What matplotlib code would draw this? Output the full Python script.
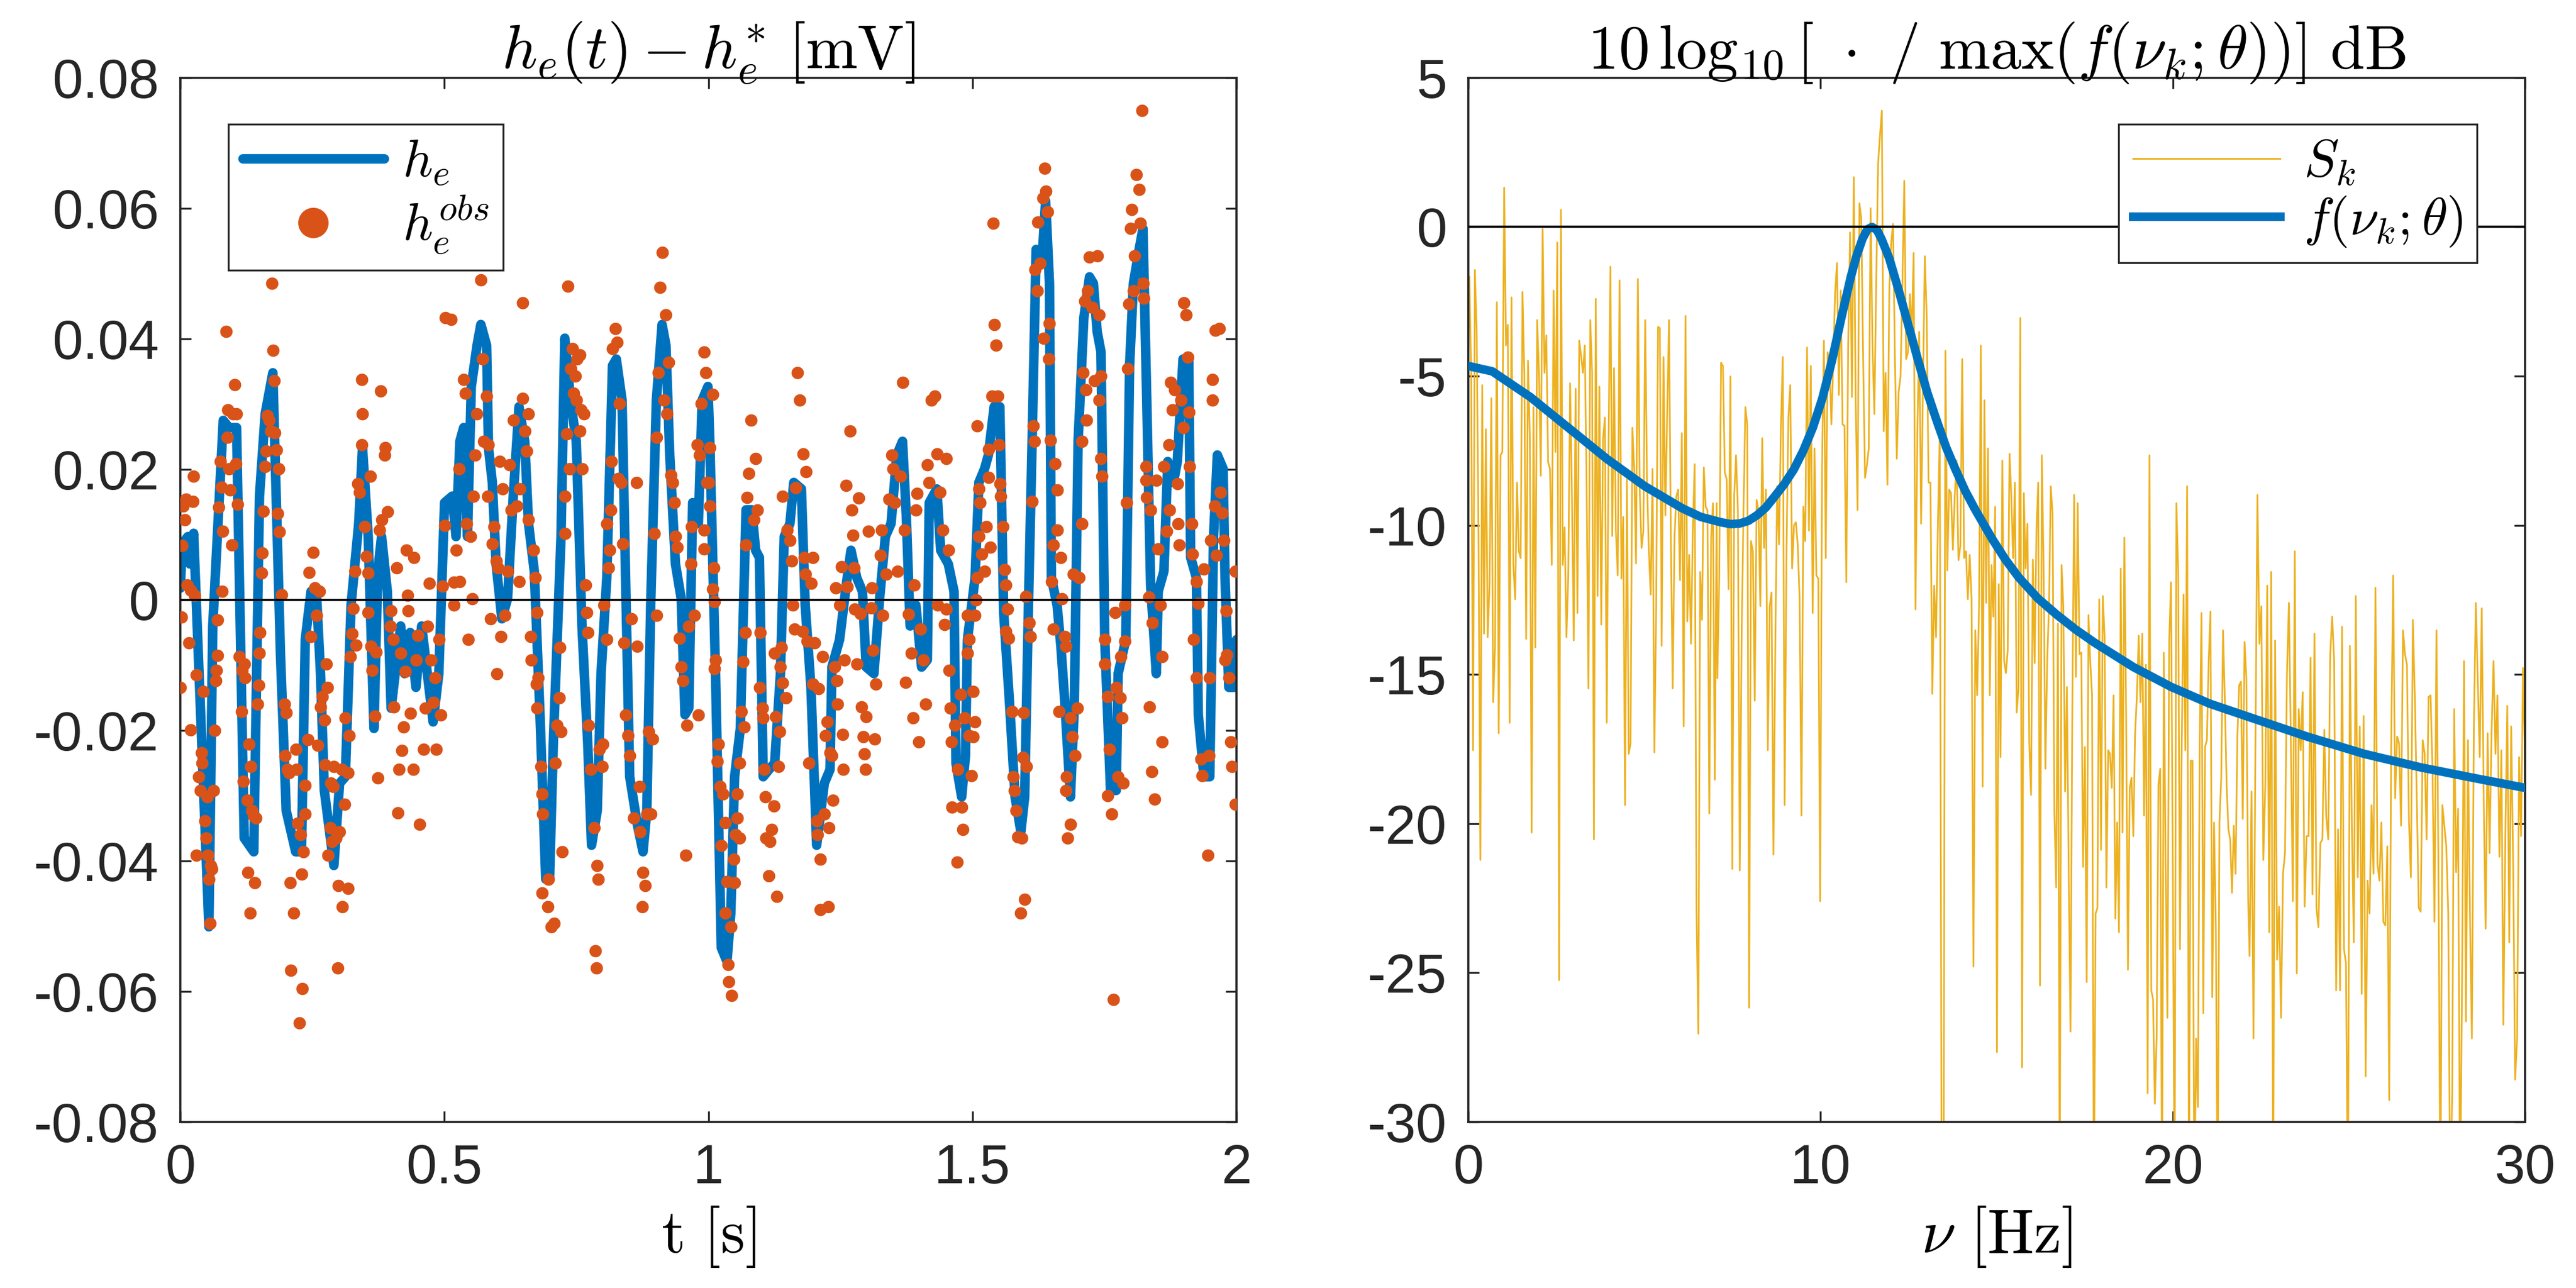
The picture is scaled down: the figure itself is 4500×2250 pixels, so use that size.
import numpy as np
import matplotlib
matplotlib.use('Agg')
import matplotlib.pyplot as plt

# ---------------- data (left panel) ----------------
# model trajectory h_e(t) - h_e^*  : (time [ms], value [1e-3 mV])
he_curve = [
    (0, 1.8), (3.6, 8.6), (14.4, 9.7), (18.0, 5.5), (25.2, 10.2), (54.1, -50.1), (61.4, -4.0),
    (81.3, 27.5), (92.1, 26.4), (106.5, 26.4), (121.0, -36.5), (139.1, -38.6), (149.9, 15.9),
    (160.7, 28.5), (175.2, 34.8), (189.6, -8.2), (200.5, -32.3), (218.5, -38.6), (229.4, -38.6),
    (236.6, -6.1), (247.5, 1.3), (258.3, 0.2), (265.5, -11.3), (272.7, -29.2), (290.8, -40.7),
    (301.6, -28.1), (312.5, -27.1), (323.3, -0.8), (337.8, 11.7), (345.0, 23.3), (355.8, 9.7),
    (366.7, -19.7), (373.9, 4.4), (381.1, 9.7), (392.0, 1.3), (399.2, -16.6), (417.3, -4.0),
    (424.5, -11.3), (435.3, -5.0), (446.2, -13.4), (457.0, -4.0), (478.7, -18.7), (489.5, -11.3),
    (500.4, 14.9), (514.9, 15.9), (522.1, 9.7), (529.4, 24.3), (536.6, 26.4), (543.8, 9.7),
    (551.0, 32.7), (561.9, 39.0), (569.1, 42.2), (580.0, 39.0), (583.6, 23.3), (590.8, 18.0),
    (598.0, 5.5), (608.9, -2.9), (619.7, 0.2), (630.5, 15.9), (641.4, 29.6), (652.2, 24.3),
    (659.4, 11.7), (670.3, 4.4), (681.1, -17.6), (692.0, -42.8), (699.2, -42.8), (706.4, -21.8),
    (720.9, 9.7), (728.1, 40.1), (738.9, 30.6), (749.8, 24.3), (760.6, -4.0), (771.4, -21.8),
    (778.7, -37.6), (789.5, -32.3), (796.7, -11.3), (807.6, 3.4), (818.4, 35.9), (825.6, 36.9),
    (836.5, 30.6), (843.7, 1.3), (851.0, -27.1), (865.4, -34.4), (876.2, -38.6), (883.4, -32.3),
    (890.7, -0.8), (901.5, 30.6), (912.3, 42.2), (919.6, 39.0), (926.8, 22.2), (937.6, 5.5),
    (948.5, 0.2), (955.7, -17.6), (962.9, -16.6), (970.2, 14.9), (981.0, 11.7), (988.2, 30.6),
    (999.1, 32.7), (1002.7, 24.3), (1013.5, -11.3), (1024.4, -53.3), (1035.2, -55.4),
    (1042.4, -48.0), (1049.6, -27.1), (1060.5, -19.7), (1071.3, 13.8), (1082.2, 13.8),
    (1089.4, 7.6), (1096.6, 6.5), (1103.8, -27.1), (1114.7, -26.0), (1125.5, -25.0),
    (1136.4, -11.3), (1143.6, 9.7), (1154.4, 11.7), (1161.7, 18.0), (1176.1, 17.0),
    (1183.3, -0.8), (1194.2, -13.4), (1205.0, -37.6), (1219.5, -28.1), (1230.3, -26.0),
    (1233.9, -10.3), (1248.4, -6.1), (1262.8, 3.4), (1270.0, 7.6), (1280.9, 3.4), (1291.7, 1.3),
    (1298.9, -10.3), (1313.4, -11.3), (1324.2, 0.2), (1335.1, 9.7), (1345.9, 11.7),
    (1356.8, 22.2), (1367.6, 24.3), (1374.8, 12.8), (1382.0, -4.0), (1392.9, -0.8),
    (1403.7, -10.3), (1414.6, -9.2), (1418.2, 14.9), (1432.6, 17.0), (1439.9, 7.6),
    (1454.3, 5.5), (1465.1, 1.3), (1468.8, -25.0), (1479.6, -30.2), (1486.8, -23.9),
    (1490.5, -6.1), (1505.0, 3.4), (1512.2, 18.0), (1523.0, 20.1), (1530.2, 22.2),
    (1541.1, 29.6), (1551.9, 29.6), (1559.1, -1.9), (1570.0, -15.5), (1580.8, -30.2),
    (1591.7, -35.5), (1598.9, -30.2), (1606.1, -0.8), (1613.3, 25.4), (1620.6, 53.7),
    (1631.4, 51.6), (1638.6, 61.1), (1645.9, 48.5), (1649.5, 3.4), (1660.3, -0.8),
    (1667.5, -7.1), (1674.8, -15.5), (1685.6, -30.2), (1692.8, -16.6), (1700.1, 24.3),
    (1710.9, 43.2), (1721.7, 49.5), (1729.0, 48.5), (1736.2, 41.1), (1743.4, 38.0),
    (1750.6, -6.1), (1761.5, -29.2), (1772.3, -29.2), (1775.9, -11.3), (1790.4, -6.1),
    (1797.6, 35.9), (1804.8, 48.5), (1815.7, 53.7), (1822.9, 56.9), (1830.1, 30.6),
    (1837.4, 2.3), (1848.2, -11.3), (1851.8, 1.3), (1862.6, 4.4), (1869.9, 21.2),
    (1880.7, 18.0), (1887.9, 21.2), (1898.8, 36.9), (1909.6, 36.9), (1913.2, 6.5),
    (1924.1, 3.4), (1927.7, -17.6), (1938.5, -27.1), (1949.4, -27.1), (1956.6, 9.7),
    (1963.8, 22.2), (1974.7, 20.1), (1978.3, 3.4), (1985.5, -13.4), (1996.3, -13.4),
    (2000.0, -6.1),
]

# observations h_e^obs : (time [ms], value [1e-3 mV])
obs_points = [
    (0, -13.4), (1.8, -2.6), (3.6, 8.3), (5.4, 14.4), (9, 12.3), (10.8, 15.4), (12.6, 2.3), (16.2, -6.6),
    (19.8, 1.5), (23.4, 15.1), (25.2, 18.9), (27, 0.7), (30.7, -11.5), (19.8, -19.9), (30.7, -39.1),
    (34.3, -27.1), (37.9, -29.2), (39.7, -23.4), (41.5, -25), (43.3, -14), (46.9, -33.9), (48.7, -36.5),
    (50.5, -30.2), (52.3, -39.1), (54.1, -42.8), (56, -49.6), (57.8, -40.7), (59.6, -41.2), (63.2, -29.2),
    (65, -20), (66.8, -12.4), (68.6, -10.8), (70.4, -8.5), (70.4, -3.1), (72.2, 14.2), (75.8, 21.2),
    (78.4, 17.3), (79.5, 1.3), (80.5, 10.5), (86.7, 41.1), (88.5, 24.9), (90.3, 29.1), (92.1, 20.1),
    (93.9, 16.8), (97.5, 8.4), (99.3, 28.5), (102.9, 33), (104.7, 20.9), (108.3, 14.6), (106.5, 28.5),
    (112, -8.7), (115.6, -17.1), (117.4, -10.8), (119.2, -27.8), (121, -9.8), (122.8, -11.9),
    (126.4, -30.7), (128.2, -41.8), (130, -22.1), (131.8, -48), (133.6, -25.5), (135.4, -32.3),
    (139, -33.1), (140.9, -43.3), (142.7, -33.4), (146.3, -16), (148.1, -13.1), (149.9, -8.2),
    (150.6, -5), (153.5, 4.1), (155.3, 7.2), (157.1, 13.6), (160.7, 20.4), (162.5, 22.8), (164.3, 28.2),
    (168, 27.5), (171.6, 25.9), (173.4, 48.5), (175.2, 38.2), (178.1, 33.6), (178.8, 25.6), (182.4, 23),
    (186, 20.1), (184.2, 13.2), (187.8, 10.4), (191.5, 0.8), (196.9, -16), (200.5, -17.3), (198.7, -23.9),
    (202.3, -26), (206, -26.5), (207.7, -43.3), (209.5, -56.8), (215, -48), (218.5, -22.9), (220.3, -26),
    (222, -34.2), (225.8, -64.8), (227.6, -36), (231.2, -59.6), (229.4, -42), (233, -38.6), (236.6, -32.8),
    (236.6, -28.4), (242, -21.4), (243.8, 4.2), (247.5, -5.6), (251, 7.3), (254.7, 1.8), (258.3, -2.4),
    (260.1, -22.3), (263.7, 1.3), (265.5, -16.4), (269.1, -14.8), (272.7, -18.4), (274.5, -25.3),
    (276.4, -9.8), (278.2, -13.4), (280, -39.1), (283.6, -34.9), (285.4, -28.1), (287.2, -37), (289, -28.6),
    (290.8, -25.5), (294.4, -36.5), (298, -56.4), (298.8, -43.8), (301.6, -35.5), (305.3, -26), (307.1, -47),
    (310.7, -31.3), (312.5, -18.1), (317.9, -44.2), (317.9, -26.5), (319.7, -20.8), (321.5, -8.7),
    (325.1, -5.2), (326.9, -1.3), (330.5, 4.4), (332.4, -6.9), (336, 17.8), (339.6, 16.5), (343.2, 23.8),
    (344, 33.8), (345, 28.5), (348.6, 11.2), (352.2, 6.7), (355.8, 4.1), (355.8, -1.9), (359.5, 18.9),
    (361.3, -7.1), (363.1, -10.8), (368.5, -17.8), (370.3, -8), (373.9, -27.3), (377.5, 10.7), (379.3, 32),
    (381.1, 12.3), (386.6, 22.2), (388.4, 23.3), (392, 13.5), (399.2, -1.7), (397.4, -4), (402.8, -6.1),
    (404.6, -16.4), (410, 4.9), (411.8, -32.6), (413.6, -26), (417.3, -8.2), (419.1, -23.1), (422.7, -19.5),
    (426.3, -11), (428.1, 7.6), (429.9, 0.7), (431.7, -1.7), (435.3, -17.4), (440.8, -26), (442.6, 6.5),
    (446.2, -9.2), (449.8, -5.4), (453.4, -34.4), (460.6, -22.9), (464.2, -16.6), (467.8, -4), (471.5, 2.5),
    (475.1, -9.2), (478.7, -15.7), (482.3, -11.9), (484.1, -22.9), (489.5, -6.1), (493.1, -17.6),
    (496.7, 2.1), (500.4, 11.4), (502.2, 43.2),
    (513.1, 43), (518.5, -0.8), (522.1, 7.6), (518.5, 2.7), (529.4, 2.8), (527.6, 20.1), (536.6, 33.8),
    (540.2, 31.7), (542, 11.7), (545.6, -6.1), (549.2, 9.7), (552.9, 0.2), (554.7, 15.9), (558.3, 22.2),
    (561.9, 28.5), (569.1, 49), (572.7, 36.9), (574.5, 24.3), (580, 31.2), (581.8, 15.9), (583.6, 23.8),
    (587.2, -2.9), (590.8, 8.6), (594.4, 11.2), (598, 6), (599.8, -11.3), (601.6, 4.9), (605.2, 21.2),
    (607.1, -5.6), (610.7, 17), (614.3, -2.4), (619.7, 4.4), (623.3, 20.7), (626.9, 13.8), (630.5, 27.5),
    (637.8, 14.4), (641.4, 2.8), (643.2, 17), (648.6, 45.5), (648.6, 30.9), (652.2, 25.9), (655.8, 22.8),
    (659.5, 28.5), (659.5, 12.3), (663.1, -5.6), (664.9, -9.2), (668.5, 7.6), (672.1, 3.4), (675.7, -1.9),
    (673.9, -12.9), (677.3, -11.9), (675.5, -16.6), (683, -25.5), (684.8, -29.7), (686.6, -32.8),
    (684.8, -44.9), (695.6, -47), (697.4, -42.8), (702.8, -50.1), (708.2, -49.6), (710, -25), (713.6, -19.2),
    (717.2, -15), (719, -7.3), (722.7, -38.6), (720.9, -20.2), (728.1, 15.9), (728.1, 10.2), (731.7, 25.4),
    (734.2, 48.1), (737.1, 20.1), (738.9, 35.4), (742.5, 38.5), (744.3, 31.7), (748, 34.3), (749.8, 30.6),
    (751.6, 36.9), (757, 37.5), (758.8, 29.1), (757, 25.9), (760.6, 20.1), (764.2, 28.5), (767.8, 2.3),
    (769.7, -1.9), (771.5, -5), (773.3, -19.2), (777, -26), (784.1, -34.9), (786, -53.8), (787.8, -56.4),
    (789.6, -40.7), (791.4, -42.8), (793.1, -22.9), (798.6, -25.5), (800.3, -22.1), (802.2, -0.8),
    (807.6, -6.1), (807.6, 11.7), (811.2, 4.9), (813, 7.6), (814.8, 13.8), (816.6, 21.2), (818.4, 38.5),
    (823.8, 41.6), (827.4, 39.5), (831.1, 30.1), (829.3, 18.6), (834.7, 18), (838.3, 8.6), (840.1, -6.6),
    (843.7, -17.6), (847.3, -20.8), (851, -23.9), (854.5, -2.9), (858.2, -33.4), (863.6, 18), (865.4, -7.1),
    (869, -28.6), (870.8, -35.5), (874.4, -47), (876.2, -41.8), (879.8, -43.8), (883.4, -32.8),
    (887.1, -20.2), (890.7, -32.8), (894.3, -21.3), (898, 10.2), (901.5, 24.9), (901.5, -2.4), (905.1, 34.8),
    (908.8, 47.9), (912.4, 53.2), (919.6, 43.7), (916, 30.6), (921.4, 28.5), (925, 36.4), (928.6, 19.1),
    (932.2, 18), (935.8, 14.9), (937.6, 9.7), (941.2, 8.1), (944.9, -5.9), (948.5, -10.3), (952.1, -12.4),
    (957.5, -39.1), (959.3, -19.2), (962.9, -4), (966.6, 5.5), (968.3, 11.2), (973.8, -2.4), (979.2, 23.8),
    (982.8, 22.2), (981, -17.6), (986.4, 30.1), (991.8, 38), (995.5, 34.8), (997.3, 18),
    (1008, 31.5), (1002.7, 23.3), (1000.9, 18), (1002.7, 14.4), (991.8, 10.7), (991.8, 7.8), (1009.9, 4.9),
    (1008, 1.7), (1011.7, -0.3), (1013.5, -9.2), (1011.7, -10.5), (1018.9, -22.1), (1017.1, -24.7),
    (1022.5, -28.6), (1028, -29.7), (1031.6, -34.1), (1024.4, -37.6), (1031.6, -48), (1035.2, -43.2),
    (1037, -55.9), (1044.2, -60.6), (1038.8, -58.5), (1042.4, -50.1), (1049.6, -43.3), (1047.8, -39.7),
    (1051.5, -36), (1055.1, -33.4), (1058.7, -36.5), (1055.1, -29.7), (1058.7, -25), (1062.3, -17.1),
    (1067.7, -19.5), (1065.9, -9.5), (1069.5, -5), (1071.3, 8.4), (1073.1, 15.7), (1076.7, 19.4),
    (1080.4, 27.5), (1085.8, 12.3), (1089.4, 21.7), (1093, 13.8), (1096.6, -13.4), (1098.4, -5),
    (1102, -16.6), (1103.8, -18.1), (1105.6, -26), (1107.5, -30.2), (1109.3, -36.5), (1114.7, -42.3),
    (1116.5, -37), (1120.1, -35.2), (1123.7, -31.6), (1129.1, -45.4), (1127.3, -17.9), (1125.5, -8.2),
    (1132.7, -25.5), (1134.6, -20.2), (1136.4, -10.3), (1138.2, -7.3), (1140, -12.7), (1140, 15.9),
    (1147.2, -15), (1149, 10.7), (1154.4, 9.1), (1158, 6), (1159.8, -0.8), (1163.5, -4.5), (1165.3, 17.2),
    (1168.9, 34.8), (1172.5, 30.6), (1179.7, 22.4), (1185.1, 19.6), (1181.5, 6.5), (1183.3, 3.9),
    (1177.9, -4.8), (1187, -6.3), (1190.5, -25), (1194.2, 2.5), (1197.8, 6.5), (1197.8, -12.9),
    (1201.4, -6.6), (1205, -33.9), (1206.8, -36), (1208.6, -13.6), (1212.2, -39.7), (1212.2, -47.5),
    (1215.8, -8.7), (1219.5, -32.8), (1221.3, -20.8), (1224.9, -18.7), (1226.7, -47), (1228.5, -34.9),
    (1230.3, -23.4), (1233.9, -23.9), (1235.6, -30.7), (1239.3, -10.3), (1242.9, -12.4), (1244.7, -16),
    (1241.1, 1.8), (1248.4, -0.8), (1252, 5.1), (1253.8, -20.6), (1255.6, -26), (1257.4, -9.2),
    (1261, 17.5), (1262.8, 2), (1268.2, 25.9), (1271.9, 13.8), (1273.6, 9.9), (1275.5, 4.9), (1277.3, -1.4),
    (1280.9, -9.8), (1284.5, 15.6), (1288.1, -2.1), (1289.9, -16.4), (1293.5, -21), (1295.3, -23.6),
    (1297.2, -26), (1298.9, -17.9), (1302.6, 10.5), (1308, -1.2), (1309.8, 1.8), (1311.6, -7.7),
    (1315.2, -21.3), (1317, -12.9), (1326, 6.8), (1327.9, 10.7), (1329.7, -2.4), (1336.9, 3.9),
    (1342.3, 15.4), (1347.7, 22.2), (1349.5, 20.1), (1353.1, 14.9), (1358.6, 4.4), (1364, 18.9),
    (1367.6, 33.3), (1371.2, 10.7), (1373, -12.6), (1378.4, -2.2), (1383.9, -8.2), (1387.5, -18.1),
    (1389.3, 2.3), (1392.9, 13.8), (1394.7, 16.3), (1398.3, -21.8), (1401.9, -4.5), (1407.3, -9.2),
    (1410.9, -16), (1414.6, 20.7), (1418.2, 18), (1421.8, 30.6), (1429, 31.2), (1432.6, 22.4),
    (1434.4, -0.8), (1438, 16.5), (1443.5, 10.7), (1447.1, -3.8), (1450.7, 21.7), (1450.7, -1.4),
    (1454.3, 7.6), (1456.1, -10.8), (1457.9, -16.6), (1459.7, -21.8), (1461.5, -31.8), (1467, -19.2),
    (1470.6, -40.2), (1472.4, -26), (1477.8, -14.5), (1479.6, -31.8), (1481.4, -35.2), (1485, -18.1),
    (1490.4, -8.2), (1494.1, -20.8), (1497.7, -26.9),
    (1490.5, -2.4), (1494.1, -6.1), (1501.3, -14), (1505, -18.7), (1501.3, -21), (1505, -2.4), (1506.8, 0),
    (1508.6, 3.4), (1512.2, 9.7), (1514, 14.9), (1512.2, 17), (1508.6, 26.7), (1517.6, 7), (1523, 4.4),
    (1526.6, 11.2), (1530.2, 18.8), (1530.2, 23.1), (1533.9, 8.1), (1537.5, 31.2), (1539.3, 57.7),
    (1541.1, 42.2), (1544.7, 39), (1548.3, 31.2), (1550.1, 23.8), (1551.9, 17.8), (1553.7, 15.9),
    (1557.3, 11.2), (1561, 4.6), (1562.8, 2.3), (1566.4, -1.4), (1562.8, -4.8), (1568.2, -5.9),
    (1575.4, -17.1), (1577.2, -27.1), (1579, -29.2), (1582.6, -32.3), (1586.2, -36.3), (1593.5, -36.5),
    (1591.7, -48), (1598.9, -45.9), (1595.3, -24.1), (1597.1, -17.3), (1602.5, -25.5), (1600.7, 0.5),
    (1607.9, -3.5), (1609.7, -5.6), (1613.3, 15.1), (1617, 24.3), (1615.2, 26.7), (1618.8, 50.6),
    (1622.4, 47.4), (1624.2, 57.9), (1627.8, 51.6), (1633.2, 61.6), (1636.8, 66.1), (1638.6, 62.6),
    (1642.2, 59.5), (1635, 40.1), (1644.1, 36.9), (1645.9, 42.4), (1647.7, 24.5), (1656.7, 20.9),
    (1660.3, 16.8), (1653.1, 8.4), (1649.5, 2.8), (1653.1, -4.5), (1660.3, 10.7), (1667.5, 6.5),
    (1669.3, 0.2), (1674.8, -5.6), (1676.6, -7.1), (1663.9, -17.1), (1685.6, -18.1), (1689.2, -21),
    (1694.6, -23.9), (1698.3, -16.6), (1678.4, -27.1), (1676.6, -29.2), (1685.6, -34.4), (1680.2, -36.5),
    (1691, 3.9), (1701.9, 3.4), (1707.3, 11.7), (1707.3, 24.3), (1709.1, 34.8), (1714.5, 32.2),
    (1716.3, 27.5), (1712.9, 45.8), (1718.1, 47.4), (1721.7, 52.5), (1727.2, 44.8), (1730.8, 33.6),
    (1736.2, 52.7), (1739.8, 43.7), (1743.4, 34.3), (1739.8, 30.6), (1743.4, 21.7), (1745.2, 18.9),
    (1750.6, -6.1), (1750.6, -9.8), (1756, -14.8), (1759.7, -22.9), (1756, -30), (1763.3, -32.8),
    (1766.9, -61.2), (1770.5, -1.9), (1772.3, -13.4), (1775.9, -27.1), (1779.5, -15), (1783.2, -18.1),
    (1785, -28.1), (1781.3, -8.7), (1788.6, -6.3), (1788.6, -0.8), (1792.2, 14.9), (1794, 35.4),
    (1795.8, 45.3), (1799.4, 56.9), (1801.2, 59.8), (1804.8, 47.4), (1806.6, 52.7), (1810.3, 65.2),
    (1815.7, 62.9), (1821.1, 75), (1817.5, 57.7), (1822.9, 48.5), (1824.7, 46.2), (1828.3, 20.4),
    (1828.3, 18.3), (1830.1, 15.7), (1837.4, 13.8), (1833.8, 0.4), (1840.9, -3.5), (1835.6, -16.4),
    (1839.2, -26.3), (1844.6, -30.5), (1848.2, 18.3), (1851.8, 7.8), (1855.4, -0.8), (1859, -21.8),
    (1859, -8.7), (1862.6, 20.4), (1868.1, 10.5), (1871.7, 23.8), (1873.5, 13.8), (1875.3, 33.3),
    (1878.9, 29.1), (1882.5, 32.2), (1887.9, 17.8), (1889.7, 11.7), (1891.6, 8.4), (1895.2, 30.6),
    (1898.8, 26.4), (1900.6, 45.5), (1904.2, 43.7), (1907.8, 37.2), (1909.6, 28.8), (1911.4, 20.4),
    (1915, 11.7), (1916.8, 7), (1918.6, -6.1), (1924.1, 2.8), (1924.1, -11.9), (1927.7, -0.5),
    (1933.1, -24.4), (1934.9, -26.9), (1938.5, 4.7), (1945.7, -39.1), (1949.4, -11.9), (1947.6, -23.9),
    (1951.2, 9.1), (1954.8, 30.6), (1954.8, 33.8), (1958.4, 14.4), (1960.2, 41.3), (1962, 6.8),
    (1967.4, 41.6), (1969.2, 16.5), (1972.9, 13.3), (1976.5, 9.1), (1980.1, -1.7), (1978.3, -9.2),
    (1981.9, -8.4), (1985.5, -11.9), (1989.1, -21.8), (1990.9, -25.5), (1998.1, 4.4), (1998.1, -31.3),
]

# ---------------- data (right panel) ----------------
# periodogram S_k [dB], four consecutive frequency stretches
Sk_band_hz = [(0.03, 7.05), (7.07, 14.50), (14.55, 22.14), (22.18, 30.0)]
Sk_band1 = [-1.67,-4.89,-17.54,-1.44,-3.51,-10.41,-21.22,-5.30,-13.63,-6.78,-13.75,-12.02,-5.74,-15.93,-14.09,-2.52,-16.97,-7.65,-7.54,1.32,-3.97,-3.28,-16.62,-2.36,-11.33,-12.48,-8.57,-10.87,-11.1,-2.18,-4.89,-13.81,-4.48,-6.96,-20.3,-6.04,-14.09,-3.12,-4.89,-8.34,-0.06,-4.89,-3.63,-7.88,-8.11,-11.33,-2.13,-7.54,-0.52,-25.25,0.58,-11.33,-10.07,-13.75,-11.68,-5.24,-9.03,-13.86,-5.42,-12.94,-3.81,-4.32,-4.89,-3.97,-8.57,-15.47,-3.12,-4.89,-20.53,-2.41,-12.37,-5.35,-13.33,-7.08,-6.39,-16.62,-7.19,-1.33,-10.36,-4.73,-10.18,-11.68,-1.79,-11.79,-9.72,-19.38,-8.46,-17.66,-17.31,-6.73,-8.11,-11.28,-1.74,-8.8,-10.76,-10.18,-3.12,-8.57,-10.87,-12.32,-8.11,-17.61,-12.71,-3.35,-3.39,-14.04,-4.36,-9.67,-6.27,-3.12,-10.41,-15.47,-10.41,-9.03,-8.8,-11.84,-6.91,-16.74,-2.98,-13.22,-10.99,-13.97,-10.18,-7.95,-22.83,-27.04,-11.56,-13.17,-8.06,-9.38,-9.49,-19.66,-10.41,-9.26,-18.53,-9.26]
Sk_band2 = [-15.13,-11.79,-4.55,-4.66,-8.23,-8.46,-12.14,-5.01,-21.52,-9.03,-7.65,-9.49,-21.57,-13.63,-9.49,-6.04,-6.62,-26.17,-10.53,-10.87,-15.88,-9.15,-9.49,-12.71,-7.08,-10.76,-8.8,-17.54,-12.71,-12.25,-21.04,-14.09,-8.69,-10.64,-6.73,-4.36,-19.38,-10.87,-6.39,-5.30,-11.45,-10.0,-9.9,-10.64,-12.48,-19.73,-9.38,-10.53,-4.04,-10.18,-4.66,-12.94,-7.42,-11.68,-11.79,-22.6,-8.11,-3.81,-11.1,-4.2,-4.43,-6.62,-4.55,-2.2,-1.21,-5.63,-2.13,-6.62,-6.66,-11.91,-3.97,-0.18,-5.70,1.67,-5.81,-9.49,0.79,0.29,-4.43,-8.41,-8.0,-7.42,0.63,-3.97,-6.27,-1.79,2.13,3.05,3.9,-6.85,-4.89,-8.64,-2.08,-0.52,0.1,-4.43,-7.77,-5.53,-5.01,-1.9,1.55,-4.43,-4.2,-2.25,-3.58,-0.87,-12.82,-6.96,-3.51,-9.95,-5.35,-0.98,-3.0,-8.57,-8.57,-15.65,-12.02,-13.75,-9.95,-6.85,-33,-33,-4.15,-11.51,-8.8,-8.92,-10.82,-9.03,-7.83,-11.17,-10.69,-4.43,-11.1,-10.87,-12.48,-10.99,-12.48,-24.79,-13.52,-15.7,-12.71]
Sk_band3 = [-3.97,-18.76,-5.81,-12.6,-7.42,-15.7,-11.33,-13.06,-9.38,-27.66,-11.97,-17.77,-7.83,-14.55,-14.96,-14.2,-7.6,-9.03,-11.1,-8.57,-16.28,-15.47,-3.05,-28.17,-8.92,-11.45,-9.95,-17.31,-19.04,-11.15,-14.62,-10.18,-8.57,-25.43,-7.65,-11.33,-18.16,-14.55,-12.71,-8.69,-9.61,-19.61,-22.14,-13.29,-33,-11.33,-12.71,-18.92,-15.42,-21.68,-26.97,-16.16,-8.98,-15.08,-9.26,-14.32,-14.27,-21.45,-17.43,-25.31,-13.01,-14.55,-15.7,-33,-23.01,-22.83,-12.48,-20.88,-12.37,-13.75,-22.14,-17.54,-17.66,-18.8,-15.7,-23.18,-19.96,-23.64,-11.45,-20.3,-10.41,-16.39,-24.9,-18.8,-18.46,-20.42,-16.97,-15.7,-13.7,-15.93,-13.63,-19.73,-14.67,-29.04,-7.65,-25.59,-25.89,-29.39,-27.15,-18.69,-18.16,-33,-14.27,-21.29,-26.51,-13.86,-11.91,-21.27,-33,-9.26,-11.56,-24.21,-17.2,-12.32,-17.54,-8.69,-33,-17.89,-17.89,-33,-27.2,-29.5,-17.31,-12.94,-26.35,-17.43,-17.2,-14.55,-12.89,-25.82,-19.96,-23.52,-33,-19.96,-18.46,-13.52,-15.82,-18.69,-20.19,-20.53,-22.32,-20.07,-21.68,-17.08,-15.36,-15.24,-19.84,-13.91,-15.13,-22.49]
Sk_band4 = [-24.44,-18.92,-27.2,-17.31,-8.98,-13.97,-12.71,-21.22,-18.69,-12.02,-23.64,-11.56,-33,-13.86,-24.56,-22.78,-26.51,-21.68,-20.99,-15.01,-12.6,-17.31,-22.6,-10.87,-25.02,-16.16,-17.54,-15.59,-22.78,-20.42,-20.42,-14.44,-22.37,-13.63,-22.83,-23.47,-20.65,-20.53,-16.85,-19.79,-20.53,-14.32,-13.06,-14.55,-25.59,-20.19,-25.59,-13.4,-24.21,-24.67,-33,-14.04,-20.07,-23.98,-12.37,-21.8,-16.74,-25.71,-16.39,-28.47,-21.91,-23.01,-19.38,-21.68,-12.09,-21.34,-21.91,-19.96,-23.29,-23.41,-20.76,-29.27,-17.31,-11.68,-19.15,-17.08,-17.31,-20.07,-13.52,-14.32,-14.67,-19.84,-21.8,-13.17,-15.7,-19.15,-22.83,-22.95,-17.2,-17.66,-20.53,-15.75,-15.7,-18.23,-23.29,-13.52,-21.45,-33,-19.38,-20.07,-20.76,-23.01,-33,-29.04,-16.16,-21.63,-19.5,-33,-25.36,-14.55,-26.63,-17.2,-22.95,-27.2,-16.85,-12.6,-15.24,-17.77,-12.78,-19.04,-23.52,-16.97,-20.99,-16.97,-14.55,-17.66,-15.7,-21.11,-17.54,-26.74,-20.53,-16.05,-23.98,-16.74,-21.45,-28.58,-27.2,-17.77,-20.42,-14.78,-17.77]

# fitted spectral model f(nu_k; theta) : (Hz, dB)
model_curve = [
    (0, -4.66), (0.68, -4.84), (1.76, -5.7), (2.84, -6.73), (3.93, -7.77), (5.01, -8.69), (6.09, -9.44),
    (6.6, -9.72), (7.18, -9.9), (7.45, -9.96), (7.7, -9.94), (7.95, -9.85), (8.2, -9.66), (8.45, -9.4),
    (8.7, -9.03), (8.97, -8.62), (9.24, -8.13), (9.51, -7.5), (9.78, -6.73), (10.05, -5.75),
    (10.32, -4.5), (10.59, -3.05), (10.86, -1.67), (11.02, -0.98), (11.19, -0.4), (11.33, -0.08),
    (11.46, 0.0), (11.6, -0.1), (11.73, -0.4), (11.95, -1.05), (12.22, -2.13), (12.49, -3.28),
    (12.76, -4.43), (13.03, -5.55), (13.3, -6.5), (13.57, -7.4), (13.84, -8.15), (14.11, -8.85),
    (14.38, -9.45), (14.87, -10.45), (15.25, -11.15), (15.63, -11.75), (16.17, -12.45), (16.71, -13.0),
    (17.25, -13.5), (17.8, -13.95), (18.88, -14.75), (19.96, -15.42), (21.05, -15.98), (22.35, -16.5),
    (23.81, -17.08), (25.43, -17.66), (27.06, -18.12), (28.68, -18.5), (30.0, -18.8),
]

left_xticks = [0, 0.5, 1, 1.5, 2]
left_xticklabels = ['0', '0.5', '1', '1.5', '2']
left_yticks = [-0.08, -0.06, -0.04, -0.02, 0, 0.02, 0.04, 0.06, 0.08]
left_yticklabels = ['-0.08', '-0.06', '-0.04', '-0.02', '0', '0.02', '0.04', '0.06', '0.08']
right_xticks = [0, 10, 20, 30]
right_yticks = [-30, -25, -20, -15, -10, -5, 0, 5]

# ---------------- styling ----------------
plt.rcParams['font.family'] = ['Liberation Sans', 'DejaVu Sans']
plt.rcParams['mathtext.fontset'] = 'cm'
plt.rcParams['axes.unicode_minus'] = False

BLUE = '#0072BD'
ORANGE = '#D95319'
YELLOW = '#EDB120'
AXC = '#262626'

fig = plt.figure(figsize=(15, 7.5), dpi=300)
ax1 = fig.add_axes([0.0700, 0.1289, 0.4100, 0.8107])
ax2 = fig.add_axes([0.5700, 0.1289, 0.4102, 0.8107])

he = np.array(he_curve, dtype=float)
ob = np.array(obs_points, dtype=float)
ax1.plot(he[:, 0] / 1000.0, he[:, 1] / 1000.0, color=BLUE, lw=4.0, label=r'$h_e$',
         solid_joinstyle='round', solid_capstyle='round', zorder=2)
ax1.plot(ob[:, 0] / 1000.0, ob[:, 1] / 1000.0, 'o', ms=5.2, color=ORANGE, mec='none',
         label=r'$h_e^{obs}$', zorder=3)
ax1.axhline(0, color='k', lw=0.9, zorder=4)
ax1.set_xlim(0, 2)
ax1.set_ylim(-0.08, 0.08)
ax1.set_xticks(left_xticks)
ax1.set_xticklabels(left_xticklabels)
ax1.set_yticks(left_yticks)
ax1.set_yticklabels(left_yticklabels)
ax1.set_title(r'$h_e(t) - h_e^{*}\ [\mathrm{mV}]$', fontsize=26, pad=4)
ax1.set_xlabel(r'$\mathrm{t}\ [\mathrm{s}]$', fontsize=26, labelpad=4)

f_parts, s_parts = [], []
for (f0, f1), band in zip(Sk_band_hz, [Sk_band1, Sk_band2, Sk_band3, Sk_band4]):
    f_parts.append(np.linspace(f0, f1, len(band)))
    s_parts.append(np.array(band, dtype=float))
f_S = np.concatenate(f_parts)
S = np.concatenate(s_parts)
mc = np.array(model_curve, dtype=float)
ax2.plot(f_S, S, color=YELLOW, lw=0.7, label=r'$S_k$', zorder=2)
ax2.plot(mc[:, 0], mc[:, 1], color=BLUE, lw=3.6, label=r'$f(\nu_k;\theta)$',
         solid_joinstyle='round', zorder=3)
ax2.axhline(0, color='k', lw=0.9, zorder=4)
ax2.set_xlim(0, 30)
ax2.set_ylim(-30, 5)
ax2.set_xticks(right_xticks)
ax2.set_xticklabels([str(v) for v in right_xticks])
ax2.set_yticks(right_yticks)
ax2.set_yticklabels([str(v) for v in right_yticks])
ax2.set_title(r'$10\,\log_{10}[\ \cdot\ /\ \max(f(\nu_k;\theta))]\ \mathrm{dB}$', fontsize=26, pad=4)
ax2.set_xlabel(r'$\nu\ [\mathrm{Hz}]$', fontsize=26, labelpad=4)

for ax in (ax1, ax2):
    ax.tick_params(direction='in', length=4.5, width=0.8, top=True, right=True,
                   labelsize=23, pad=9, colors=AXC)
    for sp in ax.spines.values():
        sp.set_linewidth(0.9)
        sp.set_color(AXC)

leg1 = ax1.legend(loc='upper left', bbox_to_anchor=(0.0455, 0.9556), borderaxespad=0,
                  fontsize=22, handlelength=2.7, handletextpad=0.35, borderpad=0.27,
                  labelspacing=0.12, markerscale=2.45, fancybox=False, edgecolor=AXC,
                  framealpha=1)
leg1.get_frame().set_linewidth(0.8)
leg2 = ax2.legend(loc='upper right', bbox_to_anchor=(0.9545, 0.9556), borderaxespad=0,
                  fontsize=22, handlelength=2.8, handletextpad=0.45, borderpad=0.27,
                  labelspacing=0.12, fancybox=False, edgecolor=AXC, framealpha=1)
leg2.get_frame().set_linewidth(0.8)
for leg in (leg1, leg2):
    leg.set_zorder(10)

fig.savefig('out.png', dpi=300, facecolor='white')
